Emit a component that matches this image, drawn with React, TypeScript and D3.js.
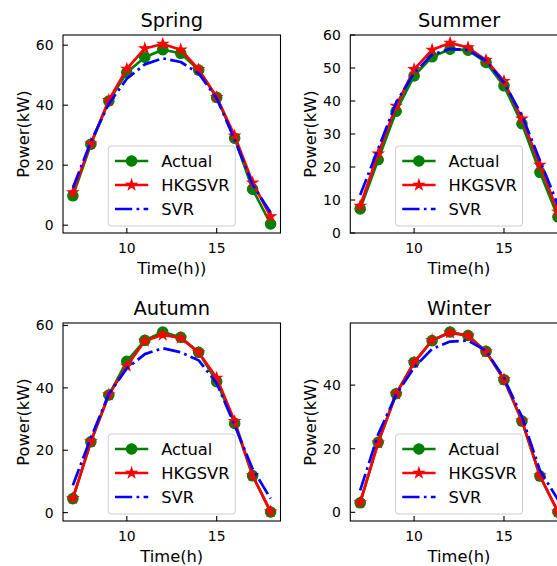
import React from 'react';
import * as d3 from 'd3';

// Hour of day for each sample
const hours = [7, 8, 9, 10, 11, 12, 13, 14, 15, 16, 17, 18];

// Spring
const springActual = [9.8, 27.0, 41.4, 50.9, 56.0, 58.5, 57.3, 51.7, 42.6, 29.0, 12.0, 0.4];
const springHKGSVR = [10.9, 27.2, 41.7, 52.1, 58.9, 60.4, 58.5, 51.9, 42.7, 29.8, 14.2, 2.9];
const springSVR = [12.5, 27.8, 40.5, 48.8, 53.6, 55.6, 54.4, 50.6, 42.3, 28.5, 13.5, 4.2];

// Summer
const summerActual = [7.3, 22.2, 36.9, 47.6, 53.4, 55.7, 55.4, 51.7, 44.6, 33.1, 18.4, 4.9];
const summerHKGSVR = [8.2, 24.0, 38.5, 49.6, 55.5, 57.6, 56.2, 52.4, 46.0, 34.6, 20.6, 6.4];
const summerSVR = [11.5, 25.5, 39.5, 48.5, 54.0, 55.8, 55.4, 52.2, 45.6, 35.6, 22.0, 8.5];

// Autumn
const autumnActual = [4.5, 22.7, 37.7, 48.5, 55.2, 57.9, 56.2, 51.4, 42.0, 28.6, 11.8, 0.2];
const autumnHKGSVR = [4.6, 22.8, 37.8, 47.0, 55.0, 57.0, 56.0, 51.3, 43.2, 29.3, 11.9, 0.3];
const autumnSVR = [8.8, 24.0, 38.0, 46.2, 50.8, 52.7, 51.4, 48.8, 41.5, 28.0, 14.0, 4.5];

// Winter
const winterActual = [3.0, 22.0, 37.3, 47.2, 54.0, 56.7, 55.6, 50.6, 41.7, 28.7, 11.4, 0.1];
const winterHKGSVR = [3.1, 21.9, 37.2, 47.1, 54.1, 56.5, 55.5, 50.5, 41.8, 28.8, 11.5, 0.2];
const winterSVR = [6.9, 24.5, 37.0, 45.5, 51.4, 53.7, 54.0, 50.8, 42.2, 30.0, 13.2, 4.0];

const seriesNames = ['Actual', 'HKGSVR', 'SVR'];
const seriesColors = ['#008000', '#ff0000', '#0000ff'];

const timeTicks = [10, 15];
const springTicks = [0, 20, 40, 60];
const summerTicks = [0, 10, 20, 30, 40, 50, 60];
const autumnTicks = [0, 20, 40, 60];
const winterTicks = [0, 20, 40];
const summerLimits = [0, 60];

const FONT = '"DejaVu Sans", Verdana, sans-serif';
const W = 557;
const H = 566;
const AX_W = 217.5;
const AX_H = 198;
const LW = 2.7;

type Panel = {
  key: string;
  title: string;
  xLabel: string;
  series: number[][];
  yTicks: number[];
  yLimits: number[] | null;
  left: number;
  top: number;
};

const panels: Panel[] = [
  { key: 'spring', title: 'Spring', xLabel: 'Time(h))', series: [springActual, springHKGSVR, springSVR], yTicks: springTicks, yLimits: null, left: 63, top: 35 },
  { key: 'summer', title: 'Summer', xLabel: 'Time(h)', series: [summerActual, summerHKGSVR, summerSVR], yTicks: summerTicks, yLimits: summerLimits, left: 350.3, top: 35 },
  { key: 'autumn', title: 'Autumn', xLabel: 'Time(h)', series: [autumnActual, autumnHKGSVR, autumnSVR], yTicks: autumnTicks, yLimits: null, left: 63, top: 323 },
  { key: 'winter', title: 'Winter', xLabel: 'Time(h)', series: [winterActual, winterHKGSVR, winterSVR], yTicks: winterTicks, yLimits: null, left: 350.3, top: 323 },
];

// Autoscale with a 5% margin on each side
function padded(values: number[]): [number, number] {
  const [lo, hi] = d3.extent(values) as [number, number];
  const m = (hi - lo) * 0.05;
  return [lo - m, hi + m];
}

const starPath = d3.symbol().type(d3.symbolStar).size(33)() as string;
const dashPattern = [6.4 * LW, 1.6 * LW, 1 * LW, 1.6 * LW].map((v) => v.toFixed(2)).join(' ');

function Marker({ i, x, y }: { i: number; x: number; y: number }) {
  if (i === 0) {
    return <circle cx={x} cy={y} r={5.2} fill={seriesColors[0]} stroke={seriesColors[0]} strokeWidth={1.2} />;
  }
  if (i === 1) {
    return (
      <path d={starPath} transform={`translate(${x},${y})`} fill={seriesColors[1]} stroke={seriesColors[1]} strokeWidth={1.1} />
    );
  }
  return null;
}

function SeriesLine({ i, d }: { i: number; d: string }) {
  return (
    <path
      d={d}
      fill="none"
      stroke={seriesColors[i]}
      strokeWidth={LW}
      strokeLinejoin="round"
      strokeDasharray={i === 2 ? dashPattern : undefined}
    />
  );
}

function Axes({ p }: { p: Panel }) {
  const x = d3.scaleLinear().domain(padded(hours)).range([p.left, p.left + AX_W]);
  const yDomain = p.yLimits ? (p.yLimits as [number, number]) : padded(p.series.flat());
  const y = d3.scaleLinear().domain(yDomain).range([p.top + AX_H, p.top]);
  const bottom = p.top + AX_H;
  const cx = p.left + AX_W / 2;
  const cy = p.top + AX_H / 2;

  const line = d3
    .line<number>()
    .x((_, j) => x(hours[j]))
    .y((v) => y(v));

  // Legend geometry (lower center)
  const legW = 127;
  const legH = 80;
  const legX = cx - legW / 2;
  const legY = bottom - 7 - legH;
  const rowH = 24;

  return (
    <g>
      <defs>
        <clipPath id={`clip-${p.key}`}>
          <rect x={p.left} y={p.top} width={AX_W} height={AX_H} />
        </clipPath>
      </defs>

      <g clipPath={`url(#clip-${p.key})`}>
        {p.series.map((vals, i) => (
          <g key={i}>
            <SeriesLine i={i} d={line(vals) as string} />
            {vals.map((v, j) => (
              <Marker key={j} i={i} x={x(hours[j])} y={y(v)} />
            ))}
          </g>
        ))}
      </g>

      {/* legend */}
      <g>
        <rect x={legX} y={legY} width={legW} height={legH} rx={3} fill="#ffffff" fillOpacity={0.8} stroke="#cccccc" strokeWidth={1} />
        {seriesNames.map((name, i) => {
          const ry = legY + 15 + i * rowH;
          const hx0 = legX + 6.7;
          const hx1 = hx0 + 33.3;
          return (
            <g key={name}>
              <SeriesLine i={i} d={`M${hx0},${ry}L${hx1},${ry}`} />
              <Marker i={i} x={(hx0 + hx1) / 2} y={ry} />
              <text x={hx1 + 13} y={ry} dy="0.36em" fontSize={16.3} fontFamily={FONT} fill="#000">
                {name}
              </text>
            </g>
          );
        })}
      </g>

      {/* spines */}
      <rect x={p.left} y={p.top} width={AX_W} height={AX_H} fill="none" stroke="#000" strokeWidth={1.1} />

      {/* x ticks (inward) */}
      {timeTicks.map((t) => (
        <g key={t}>
          <line x1={x(t)} x2={x(t)} y1={bottom} y2={bottom - 4.9} stroke="#000" strokeWidth={1.1} />
          <text x={x(t)} y={bottom + 19.5} textAnchor="middle" fontSize={13.9} fontFamily={FONT} fill="#000">
            {t}
          </text>
        </g>
      ))}

      {/* y ticks (inward) */}
      {p.yTicks.map((t) => (
        <g key={t}>
          <line x1={p.left} x2={p.left + 4.9} y1={y(t)} y2={y(t)} stroke="#000" strokeWidth={1.1} />
          <text x={p.left - 9.5} y={y(t)} dy="0.36em" textAnchor="end" fontSize={13.9} fontFamily={FONT} fill="#000">
            {t}
          </text>
        </g>
      ))}

      <text x={cx} y={p.top - 8.5} textAnchor="middle" fontSize={19.4} fontFamily={FONT} fill="#000">
        {p.title}
      </text>
      <text x={cx} y={bottom + 40.5} textAnchor="middle" fontSize={16.3} fontFamily={FONT} fill="#000">
        {p.xLabel}
      </text>
      <text
        transform={`translate(${p.left - 34},${cy}) rotate(-90)`}
        textAnchor="middle"
        fontSize={16.3}
        fontFamily={FONT}
        fill="#000"
      >
        Power(kW)
      </text>
    </g>
  );
}

export default function App() {
  return (
    <div style={{ position: 'absolute', left: 0, top: 0, width: W, height: H, overflow: 'hidden', background: '#fff' }}>
      <svg width={W} height={H} viewBox={`0 0 ${W} ${H}`} style={{ display: 'block' }}>
        <rect x={0} y={0} width={W} height={H} fill="#ffffff" />
        {panels.map((p) => (
          <Axes key={p.key} p={p} />
        ))}
      </svg>
    </div>
  );
}
